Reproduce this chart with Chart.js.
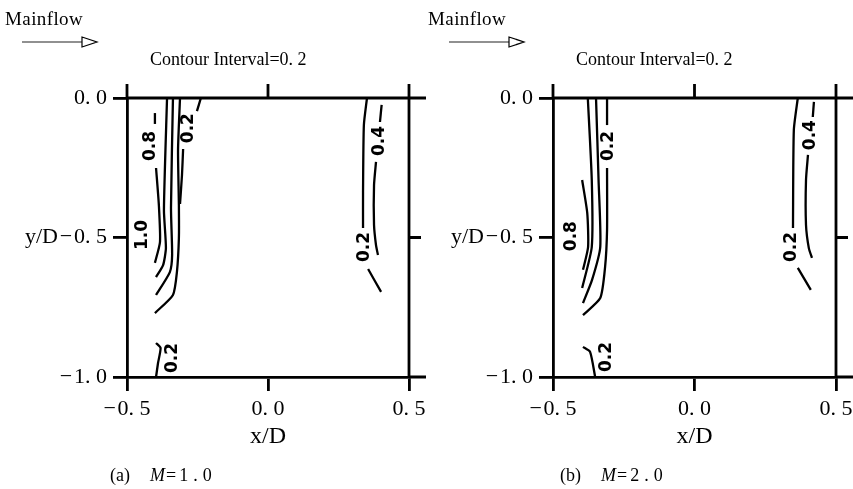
<!DOCTYPE html>
<html>
<head>
<meta charset="utf-8">
<script src="https://cdn.jsdelivr.net/npm/chart.js@4"></script>
<style>
  body { margin:0; background:#fff; width:853px; height:489px; position:relative; overflow:hidden;
         font-family:"Liberation Serif","DejaVu Serif",serif; color:#000; }
  .box { position:absolute; top:0; height:489px; }
  canvas { display:block; }
  .txt { position:absolute; white-space:nowrap; line-height:1; }
  .flow { font-size:19px; top:9px; letter-spacing:0.4px; }
  .interval { font-size:18px; top:50px; }
  .cap { font-size:18px; top:466px; }
  .cap i { margin-left:20px; }
  .cap .eq { padding:0 3px 0 1px; }
  .cap .num { letter-spacing:5px; }
  svg { position:absolute; top:34px; }
</style>
</head>
<body>
<div class="box" style="left:0;width:426px"><canvas id="chartA" width="426" height="489"></canvas></div>
<div class="box" style="left:426px;width:427px"><canvas id="chartB" width="427" height="489"></canvas></div>

<div class="txt flow" style="left:5px">Mainflow</div>
<div class="txt flow" style="left:428px">Mainflow</div>
<svg style="left:20px" width="80" height="16"><path d="M2 8 H62" stroke="#222" stroke-width="1.1"/><path d="M62 3 L77 8 L62 13 Z" fill="none" stroke="#000" stroke-width="1.2"/></svg>
<svg style="left:447px" width="80" height="16"><path d="M2 8 H62" stroke="#222" stroke-width="1.1"/><path d="M62 3 L77 8 L62 13 Z" fill="none" stroke="#000" stroke-width="1.2"/></svg>
<div class="txt interval" style="left:150px">Contour Interval=0. 2</div>
<div class="txt interval" style="left:576px">Contour Interval=0. 2</div>
<div class="txt cap" style="left:110px">(a)<i>M</i><span class="eq">=</span><span class="num">1.0</span></div>
<div class="txt cap" style="left:560px">(b)<i>M</i><span class="eq">=</span><span class="num">2.0</span></div>

<script>
// axis ticks
const xTicks = [-0.5, 0, 0.5];
const xTickLabels = ['−\u200a0. 5', '0. 0', '0. 5'];
const yTicks = [-1, -0.5, 0];
const yTickLabels = ['−\u200a1. 0', 'y/D\u200a−\u200a0. 5', '0. 0'];
const topTicks = [0];
const rightTicks = [-0.5];

// (a) M=1.0 contour traces, [x/D, y/D]
const aDash08 = [[-0.401,-0.054],[-0.401,-0.093]];
const aC08 = [[-0.397,-0.251],[-0.387,-0.384],[-0.383,-0.516],[-0.401,-0.591]];
const aC06 = [[-0.358,0],[-0.369,-0.401],[-0.362,-0.538],[-0.372,-0.599],[-0.397,-0.642]];
const aC04 = [[-0.337,0],[-0.344,-0.394],[-0.340,-0.563],[-0.348,-0.624],[-0.397,-0.706]];
const aC02 = [[-0.312,0],[-0.319,-0.186],[-0.316,-0.384],[-0.316,-0.502],[-0.323,-0.624],[-0.337,-0.706],[-0.401,-0.771]];
const aDash02 = [[-0.238,0],[-0.252,-0.047]];
const aC02b = [[-0.301,-0.183],[-0.305,-0.276],[-0.312,-0.380]];
const aBot02 = [[-0.397,-0.878],[-0.381,-0.896],[-0.390,-0.950],[-0.397,-1.0]];
const aR02 = [[0.351,0],[0.340,-0.097],[0.337,-0.337],[0.337,-0.466]];
const aR02b = [[0.355,-0.613],[0.401,-0.695]];
const aDash04 = [[0.403,-0.025],[0.397,-0.086]];
const aR04 = [[0.383,-0.229],[0.376,-0.312],[0.376,-0.455],[0.383,-0.527],[0.390,-0.563]];
const aLabels = [['0.8',-0.418,-0.172],['0.2',-0.280,-0.108],['1.0',-0.443,-0.491],
                 ['0.2',-0.337,-0.932],['0.4',0.394,-0.154],['0.2',0.344,-0.534]];

// (b) M=2.0
const bC08 = [[-0.397,-0.294],[-0.379,-0.412],[-0.376,-0.534],[-0.394,-0.616]];
const bC06 = [[-0.377,0],[-0.363,-0.294],[-0.363,-0.534],[-0.397,-0.681]];
const bC04 = [[-0.348,0],[-0.339,-0.294],[-0.333,-0.534],[-0.362,-0.652],[-0.394,-0.735]];
const bDash02 = [[-0.309,0],[-0.309,-0.097]];
const bC02 = [[-0.309,-0.251],[-0.309,-0.473],[-0.316,-0.606],[-0.333,-0.717],[-0.394,-0.778]];
const bBot02 = [[-0.394,-0.892],[-0.369,-0.910],[-0.351,-1.0]];
const bR02 = [[0.365,0],[0.351,-0.115],[0.348,-0.466]];
const bR02b = [[0.365,-0.609],[0.411,-0.688]];
const bDash04 = [[0.422,-0.014],[0.418,-0.068]];
const bR04 = [[0.401,-0.204],[0.394,-0.294],[0.394,-0.455],[0.404,-0.538],[0.415,-0.573]];
const bLabels = [['0.2',-0.305,-0.172],['0.8',-0.436,-0.495],['0.2',-0.312,-0.928],
                 ['0.4',0.411,-0.133],['0.2',0.344,-0.534]];

const AXIS_W = 2.8;
const TICK = 14;
const serif = '"Liberation Serif", "DejaVu Serif", serif';

// top/right frame lines with the short overhangs seen in the figure
const frame = {
  id: 'frame',
  afterDraw(chart) {
    const {ctx, chartArea: {left, right, top, bottom}, scales: {x, y}} = chart;
    ctx.save();
    ctx.strokeStyle = '#000';
    ctx.lineWidth = AXIS_W;
    ctx.beginPath();
    ctx.moveTo(left, top); ctx.lineTo(right + 17, top);
    ctx.moveTo(right, bottom); ctx.lineTo(right + 17, bottom);
    ctx.moveTo(right, top - TICK); ctx.lineTo(right, bottom);
    ctx.moveTo(left, top - TICK); ctx.lineTo(left, top);
    topTicks.forEach(v => {
      const px = x.getPixelForValue(v);
      ctx.moveTo(px, top - TICK); ctx.lineTo(px, top);
    });
    rightTicks.forEach(v => {
      const py = y.getPixelForValue(v);
      ctx.moveTo(right, py); ctx.lineTo(right + 12, py);
    });
    ctx.stroke();
    ctx.restore();
  }
};

// rotated in-line contour labels
const contourLabels = {
  id: 'contourLabels',
  afterDatasetsDraw(chart, args, opts) {
    const {ctx, scales: {x, y}} = chart;
    ctx.save();
    ctx.fillStyle = '#000';
    ctx.font = 'bold 17px "DejaVu Sans", sans-serif';
    ctx.textAlign = 'center';
    ctx.textBaseline = 'middle';
    (opts.items || []).forEach(([t, vx, vy]) => {
      ctx.save();
      ctx.translate(x.getPixelForValue(vx), y.getPixelForValue(vy));
      ctx.rotate(-Math.PI / 2);
      ctx.fillText(t, 0, 0);
      ctx.restore();
    });
    ctx.restore();
  }
};

function makeChart(id, lines, labels) {
  return new Chart(document.getElementById(id), {
    type: 'scatter',
    data: {
      datasets: lines.map(l => ({
        data: l.map(p => ({x: p[0], y: p[1]})),
        showLine: true,
        borderColor: '#000',
        borderWidth: 2.3,
        pointRadius: 0,
        tension: 0.2
      }))
    },
    options: {
      responsive: false,
      animation: false,
      layout: {padding: {top: 98, right: 17, bottom: 0, left: 0}},
      plugins: {
        legend: {display: false},
        tooltip: {enabled: false},
        contourLabels: {items: labels}
      },
      scales: {
        x: {
          type: 'linear', min: -0.5, max: 0.5,
          afterBuildTicks: s => { s.ticks = xTicks.map(v => ({value: v})); },
          afterFit: s => { s.height = 112; s.paddingLeft = 0; s.paddingRight = 0; },
          grid: {drawOnChartArea: false, color: '#000', lineWidth: AXIS_W, tickLength: TICK},
          border: {color: '#000', width: AXIS_W},
          ticks: {
            callback: v => xTickLabels[xTicks.indexOf(v)],
            color: '#000', font: {family: serif, size: 22}, padding: 5, maxRotation: 0
          },
          title: {display: true, text: 'x/D', color: '#000', font: {family: serif, size: 24},
                  padding: {top: 0, bottom: 38}}
        },
        y: {
          type: 'linear', min: -1, max: 0,
          afterBuildTicks: s => { s.ticks = yTicks.map(v => ({value: v})); },
          afterFit: s => { s.width = 127; },
          grid: {drawOnChartArea: false, color: '#000', lineWidth: AXIS_W, tickLength: TICK},
          border: {color: '#000', width: AXIS_W},
          ticks: {
            callback: v => yTickLabels[yTicks.indexOf(v)],
            color: '#000', font: {family: serif, size: 22}, padding: 6
          }
        }
      }
    },
    plugins: [frame, contourLabels]
  });
}

makeChart('chartA',
  [aDash08, aC08, aC06, aC04, aC02, aDash02, aC02b, aBot02, aR02, aR02b, aDash04, aR04],
  aLabels);
makeChart('chartB',
  [bC08, bC06, bC04, bDash02, bC02, bBot02, bR02, bR02b, bDash04, bR04],
  bLabels);
</script>
</body>
</html>
